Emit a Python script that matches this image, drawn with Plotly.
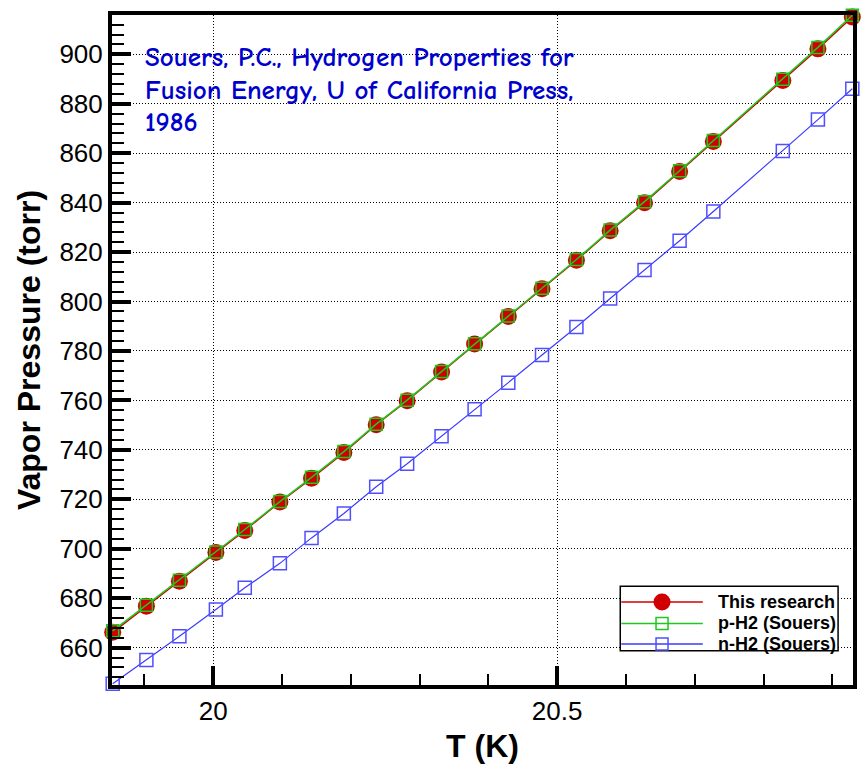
import plotly.graph_objects as go

# Temperature (K) of each tabulated point
temperature = [19.854, 19.903, 19.951, 20.004, 20.046, 20.097, 20.143, 20.190,
               20.237, 20.282, 20.332, 20.380, 20.429, 20.478, 20.528, 20.577,
               20.627, 20.678, 20.727, 20.828, 20.879, 20.929]

# Vapor pressure (torr)
this_research = [666.2, 676.8, 686.9, 698.5, 707.4, 718.9, 728.5, 738.9,
                 750.2, 759.9, 771.5, 782.8, 794.0, 805.2, 816.7, 828.6,
                 840.0, 852.6, 864.7, 889.4, 902.2, 915.1]
p_h2_souers = [666.8, 677.2, 687.3, 698.7, 707.8, 719.1, 728.9, 739.3,
               750.4, 760.1, 771.7, 782.9, 794.2, 805.4, 817.0, 828.9,
               840.4, 852.9, 865.1, 889.9, 902.8, 915.8]
n_h2_souers = [645.4, 655.0, 664.6, 675.4, 684.2, 694.1, 704.4, 714.3,
               725.1, 734.4, 745.5, 756.4, 767.2, 778.4, 789.7, 801.2,
               812.8, 824.6, 836.4, 860.9, 873.6, 886.1]

series_names = ["This research", "p-H2 (Souers)", "n-H2 (Souers)"]
note_lines = ["Souers, P.C., Hydrogen Properties for",
              "Fusion Energy, U of California Press,",
              "1986"]

RED, GREEN, BLUE_LINE, BLUE_MARK = "#D00000", "#1EC81E", "#3A3AFF", "#4F4FFF"

W, H = 868, 770
ML, MR, MT, MB = 112, 11, 13, 71
PW, PH = W - ML - MR, H - MT - MB


def px(xp):
    return (xp - ML) / PW


def py(yp):
    return (H - MB - yp) / PH


fig = go.Figure()
fig.add_trace(go.Scatter(
    x=temperature, y=this_research, name=series_names[0], mode="lines+markers",
    line=dict(color=RED, width=1.5), cliponaxis=False,
    marker=dict(symbol="circle", size=17, color=RED, line=dict(width=0))))
fig.add_trace(go.Scatter(
    x=temperature, y=p_h2_souers, name=series_names[1], mode="lines+markers",
    line=dict(color=GREEN, width=1.5), cliponaxis=False,
    marker=dict(symbol="square-open", size=12, color=GREEN, line=dict(width=1.5))))
fig.add_trace(go.Scatter(
    x=temperature, y=n_h2_souers, name=series_names[2], mode="lines+markers",
    line=dict(color=BLUE_LINE, width=1.2), cliponaxis=False,
    marker=dict(symbol="square-open", size=13, color=BLUE_MARK, line=dict(width=1.5))))

axis_common = dict(
    showline=True, linecolor="black", linewidth=4, mirror=True,
    ticks="inside", ticklen=19, tickwidth=4, tickcolor="black",
    showgrid=True, gridcolor="black", gridwidth=1, griddash="1px,2px",
    zeroline=False,
    tickfont=dict(family="Liberation Sans, Arial", size=26, color="black"),
)

fig.update_xaxes(
    range=[19.853, 20.930], tickvals=[20, 20.5], ticktext=["20", "20.5"],
    minor=dict(dtick=0.1, tick0=20, ticks="inside", ticklen=11, tickwidth=1.5,
               tickcolor="black", showgrid=False),
    title=dict(text="T (K)", standoff=10,
               font=dict(family="Liberation Sans, Arial", size=32, color="black",
                         weight="bold")),
    **axis_common)
fig.update_yaxes(
    range=[644.9, 915.9], dtick=20, tick0=0,
    minor=dict(dtick=4, tick0=0, ticks="inside", ticklen=12, tickwidth=1.5,
               tickcolor="black", showgrid=False),
    title=dict(text="Vapor Pressure (torr)", standoff=10,
               font=dict(family="Liberation Sans, Arial", size=32, color="black",
                         weight="bold")),
    **axis_common)

# Reference note in the upper-left corner, one annotation per line
note_top = [40, 73, 106]
for line, top in zip(note_lines, note_top):
    fig.add_annotation(
        xref="paper", yref="paper", x=px(144), y=py(top), xanchor="left",
        yanchor="top", text=line, align="left", showarrow=False, borderpad=0,
        font=dict(family="Comic Sans MS, Comic Neue, Noto Sans", size=27,
                  color="#0000CC", weight="bold"))

# Legend box
shapes = [dict(type="rect", xref="paper", yref="paper",
               x0=px(623), x1=px(842), y0=py(598), y1=py(664),
               fillcolor="white", line=dict(color="black", width=1.5), layer="above")]
row_y = [614, 636, 657]
row_colors = [RED, GREEN, BLUE_LINE]
for i, (yy, col) in enumerate(zip(row_y, row_colors)):
    shapes.append(dict(type="line", xref="paper", yref="paper",
                       x0=px(624), x1=px(706), y0=py(yy), y1=py(yy),
                       line=dict(color=col, width=1.5), layer="above"))
    if i == 0:
        shapes.append(dict(type="circle", xref="paper", yref="paper",
                           xsizemode="pixel", ysizemode="pixel",
                           xanchor=px(665), yanchor=py(yy),
                           x0=-8.5, x1=8.5, y0=-8.5, y1=8.5,
                           fillcolor=RED, line=dict(color=RED, width=0), layer="above"))
    else:
        mc = GREEN if i == 1 else BLUE_MARK
        shapes.append(dict(type="rect", xref="paper", yref="paper",
                           xsizemode="pixel", ysizemode="pixel",
                           xanchor=px(665), yanchor=py(yy),
                           x0=-6, x1=6, y0=-6, y1=6,
                           fillcolor="rgba(0,0,0,0)", line=dict(color=mc, width=1.5),
                           layer="above"))
    fig.add_annotation(
        xref="paper", yref="paper", x=px(719), y=py(yy), xanchor="left",
        yanchor="middle", text=series_names[i], showarrow=False,
        font=dict(family="Liberation Sans, Arial", size=18, color="black",
                  weight="bold"))

fig.update_layout(
    width=W, height=H, margin=dict(l=ML, r=MR, t=MT, b=MB),
    paper_bgcolor="white", plot_bgcolor="white", showlegend=False,
    shapes=shapes)

fig.write_html("out.html")
